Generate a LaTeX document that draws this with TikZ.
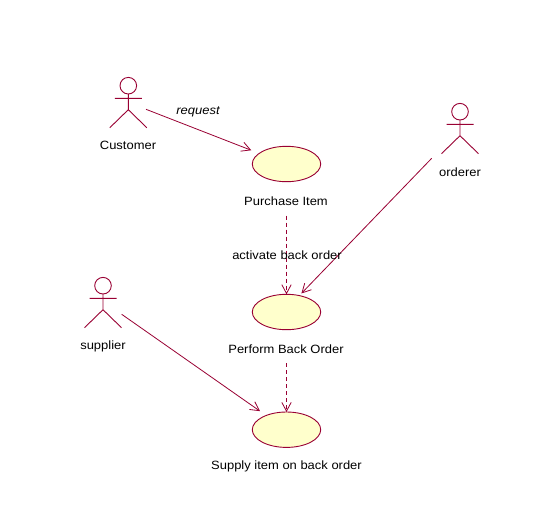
\documentclass[tikz,border=0pt]{standalone}
\usepackage{fontspec}
\setmainfont[FakeStretch=1.08]{Liberation Sans}
\usetikzlibrary{arrows.meta,shapes.geometric}
\definecolor{umlline}{HTML}{990033}
\definecolor{umlfill}{HTML}{FFFFCC}
\tikzset{
  usecase/.style={ellipse,draw=umlline,fill=umlfill,line width=0.9pt,minimum width=68.4pt,minimum height=35.4pt,inner sep=0pt,outer sep=0pt},
  txt/.style={font=\fontsize{12}{14}\selectfont,text=black,inner sep=0pt},
  limb/.style={draw=umlline,line width=0.9pt},
  head/.style={circle,draw=umlline,line width=0.9pt,minimum size=16.6pt,inner sep=0pt,outer sep=0pt},
  link/.style={draw=umlline,line width=0.8pt,-{Straight Barb[length=8.8pt,width=9.4pt,line width=0.8pt]}},
  dep/.style={link,dash pattern=on 4pt off 3pt},
  pics/actor/.style={code={
    \node[head] (-h) at (0,0) {};
    \draw[limb] (-h.south) -- (0,24) (-13.5,12.6) -- (13.5,12.6)
      (-18.5,42) -- (0,24) -- (18.5,42);
  }}
}
\begin{document}
\begin{tikzpicture}[x=1pt,y=-1pt]
\useasboundingbox (0,0) rectangle (549,514);
\fill[white] (0,0) rectangle (549,514);
\pic (customer) at (128.3,85.7) {actor};
\pic (orderer) at (460,111.7) {actor};
\pic (supplier) at (103,285.7) {actor};
\node[txt] (lcustomer) at (128,145.5) {Customer};
\node[txt] (lorderer) at (460,172) {orderer};
\node[txt] (lsupplier) at (103,346) {supplier};
\node[usecase] (pi) at (286.5,164) {};
\node[usecase] (pe) at (286.5,312) {};
\node[usecase] (si) at (286.5,429.7) {};
\node[txt] (lpi) at (286,201) {Purchase Item};
\node[txt] (lpe) at (286,349) {Perform Back Order};
\node[txt] (lsi) at (286.5,466) {Supply item on back order};
\coordinate (c1) at (146,109.3);
\coordinate (o1) at (431.7,158.3);
\coordinate (s1) at (121.7,314.3);
\coordinate (d1) at (286.5,215.7);
\coordinate (d2) at (286.5,363.3);
\draw[link,shorten >=8.5pt] (c1) -- (pi);
\draw[link,shorten >=3pt] (o1) -- (pe.52);
\draw[link,shorten >=7.5pt] (s1) -- (si);
\draw[dep] (d1) -- (pe.north);
\draw[dep] (d2) -- (si.north);
\node[txt,font=\fontsize{12}{14}\selectfont\itshape] (lreq) at (198,111.5) {request};
\node[txt] (lact) at (287,255.5) {activate back order};
\end{tikzpicture}
\end{document}
